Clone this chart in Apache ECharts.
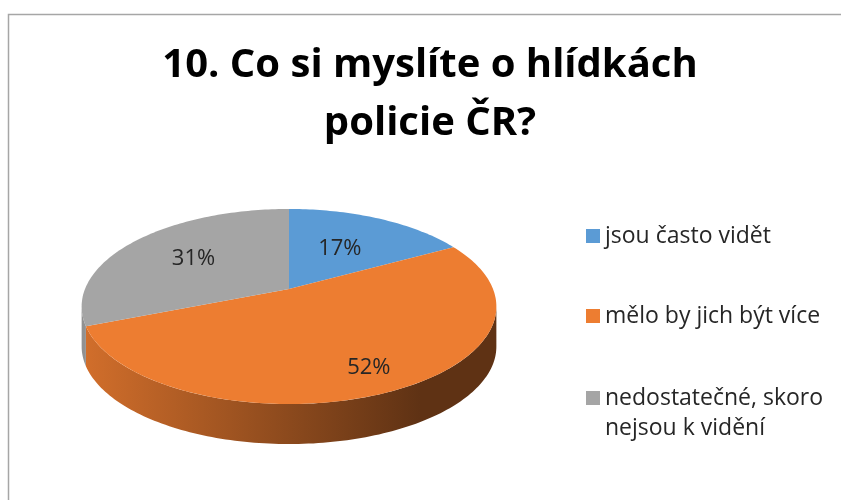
<!DOCTYPE html>
<html>
<head>
<meta charset="utf-8">
<title>10. Co si myslíte o hlídkách policie ČR?</title>
<script src="https://cdn.jsdelivr.net/npm/echarts@6/dist/echarts.min.js"></script>
<style>
  html, body { margin: 0; padding: 0; background: #fff; }
  #main { width: 841px; height: 500px; }
</style>
</head>
<body>
<div id="main"></div>
<script>
// data
const categories = ['jsou často vidět', 'mělo by jich být více', 'nedostatečné, skoro nejsou k vidění']
const shares = [17, 52, 31]
const colors = ['#5b9bd5', '#ed7d31', '#a5a5a5']

// how far out each % label sits (fraction of radius)
const labelRadius = [0.53, 0.8, 0.6]

// 3d pie geometry (simple perspective of a tilted disc)
const CX = 289, CY = 289, R = 204, RY = 94.4, P = 0.1795, DEPTH = 40
const FONT = '"Open Sans", Lato, sans-serif'

const total = shares.reduce((a, b) => a + b, 0)

function project(theta, f) {
  // theta: clockwise from 12 o'clock
  const u = Math.sin(theta) * f
  const w = -Math.cos(theta) * f
  const s = 1 / (1 - P * w)
  return [CX + R * u * s, CY + RY * w * s]
}

function shade(hex, k) {
  const n = parseInt(hex.slice(1), 16)
  const r = Math.round(((n >> 16) & 255) * k)
  const g = Math.round(((n >> 8) & 255) * k)
  const b = Math.round((n & 255) * k)
  return 'rgb(' + r + ',' + g + ',' + b + ')'
}

function arc(a0, a1, f, dy) {
  const pts = []
  const n = Math.max(2, Math.ceil((a1 - a0) / 0.02))
  for (let k = 0; k <= n; k++) {
    const p = project(a0 + (a1 - a0) * k / n, f)
    pts.push([p[0], p[1] + (dy || 0)])
  }
  return pts
}

// visible part of the rim (front)
const SIDE_FROM = Math.acos(-P)
const SIDE_TO = 2 * Math.PI - Math.acos(-P)

function renderSlice(params, api) {
  const idx = params.seriesIndex
  const v = api.value(0)
  const start = api.value(1)
  const sum = api.value(2)
  const a0 = start / sum * Math.PI * 2
  const a1 = (start + v) / sum * Math.PI * 2
  const color = api.visual('color')
  const children = []

  const b0 = Math.max(a0, SIDE_FROM)
  const b1 = Math.min(a1, SIDE_TO)
  if (b1 > b0) {
    const topEdge = arc(b0, b1, 1, 0)
    const bottomEdge = arc(b0, b1, 1, DEPTH).reverse()
    children.push({
      type: 'polygon',
      shape: { points: topEdge.concat(bottomEdge) },
      style: {
        fill: new echarts.graphic.LinearGradient(85, 0, 420, 0, [
          { offset: 0, color: shade(color, 0.88) },
          { offset: 1, color: shade(color, 0.4) }
        ], true)
      }
    })
  }

  children.push({
    type: 'polygon',
    shape: { points: [[CX, CY]].concat(arc(a0, a1, 1, 0)) },
    style: { fill: color }
  })

  const mid = (a0 + a1) / 2
  const lp = project(mid, labelRadius[idx])
  children.push({
    type: 'text',
    x: lp[0],
    y: lp[1],
    style: {
      text: Math.round(v / sum * 100) + '%',
      fill: '#262626',
      font: '22px ' + FONT,
      align: 'center',
      verticalAlign: 'middle'
    }
  })

  return { type: 'group', children: children }
}

let before = 0
const series = categories.map((name, i) => {
  const item = [shares[i], before, total]
  before += shares[i]
  return {
    type: 'custom',
    name: name,
    coordinateSystem: 'none',
    renderItem: renderSlice,
    data: [item],
    animation: false
  }
})

const legendText = {
  color: '#262626',
  fontSize: 23,
  fontFamily: FONT,
  lineHeight: 30
}

let myChart = echarts.init(document.getElementById('main'))
let option = {
  color: colors,
  title: {
    text: '10. Co si myslíte o hlídkách\npolicie ČR?',
    left: 425,
    top: 32,
    textAlign: 'center',
    textStyle: {
      fontFamily: FONT,
      fontSize: 40,
      fontWeight: 'bold',
      color: '#000',
      lineHeight: 58
    }
  },
  legend: [
    {
      orient: 'vertical',
      left: 581,
      top: 216,
      itemGap: 50,
      itemWidth: 14,
      itemHeight: 14,
      icon: 'rect',
      selectedMode: false,
      data: categories.slice(0, 2),
      textStyle: legendText
    },
    {
      // long name wraps; a leading empty line keeps the square next to the first line
      orient: 'vertical',
      left: 581,
      top: 348,
      itemWidth: 14,
      itemHeight: 14,
      icon: 'rect',
      selectedMode: false,
      data: categories.slice(2),
      formatter: name => '\n' + name,
      textStyle: Object.assign({}, legendText, {
        width: 250,
        overflow: 'break'
      })
    }
  ],
  graphic: [
    {
      type: 'rect',
      silent: true,
      shape: { x: 8.5, y: 14.5, width: 900, height: 600 },
      style: { fill: 'none', stroke: '#a6a6a6', lineWidth: 1.5 }
    }
  ],
  series: series
}
myChart.setOption(option)
</script>
</body>
</html>
